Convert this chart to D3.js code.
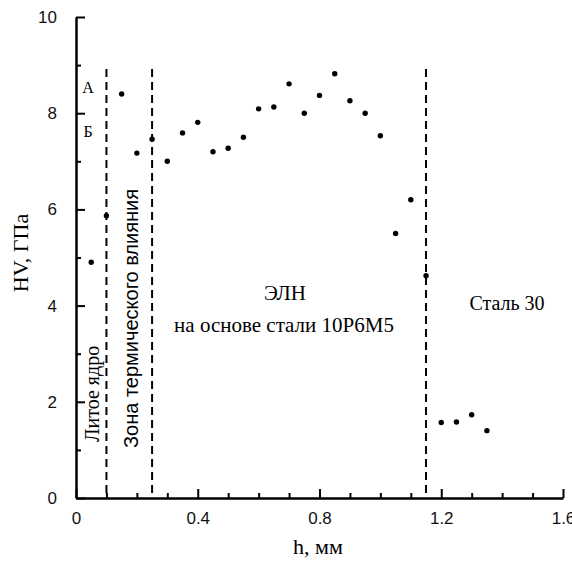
<!DOCTYPE html>
<html>
<head>
<meta charset="utf-8">
<script src="https://cdn.jsdelivr.net/npm/d3@7"></script>
<style>
  body { margin: 0; background: #fff; }
  svg { display: block; }
  .serif { font-family: "Liberation Serif", "DejaVu Serif", serif; }
  .sans { font-family: "Liberation Sans", Arial, sans-serif; }
</style>
</head>
<body>
<div class="chart"></div>
<script>
// h, мм
let depth = [0.05, 0.1, 0.15, 0.2, 0.25, 0.3, 0.35, 0.4, 0.45, 0.5, 0.55, 0.6, 0.65, 0.7,
  0.75, 0.8, 0.85, 0.9, 0.95, 1.0, 1.05, 1.1, 1.15, 1.2, 1.25, 1.3, 1.35];
// HV, ГПа
let hardness = [4.9, 5.87, 8.4, 7.17, 7.46, 7.0, 7.59, 7.81, 7.2, 7.27, 7.5, 8.09, 8.13, 8.61,
  8.0, 8.37, 8.82, 8.26, 8.0, 7.53, 5.5, 6.2, 4.62, 1.57, 1.58, 1.73, 1.4];

// zone boundaries
let borders = [0.1, 0.25, 1.15];
let borderTop = 8.92;

let xTicks = [0, 0.4, 0.8, 1.2, 1.6];
let xMinor = [0.1, 0.2, 0.3, 0.5, 0.6, 0.7, 0.9, 1.0, 1.1, 1.3, 1.4, 1.5];
let yTicks = [0, 2, 4, 6, 8, 10];
let yMinor = [1, 3, 5, 7, 9];

let w = 572;
let h = 563;

let xScale = d3.scaleLinear()
    .domain([0, 1.6])
    .range([76, 563]);

let yScale = d3.scaleLinear()
    .domain([0, 10])
    .range([498, 17]);

const svg = d3.select(".chart")
    .append("svg")
    .attr("width", w)
    .attr("height", h);

// minor ticks
svg.append("g")
    .attr("transform", "translate(0, 498)")
    .call(d3.axisBottom(xScale).tickValues(xMinor).tickSize(-5).tickSizeOuter(0).tickFormat(""))
    .call(g => g.select(".domain").remove());

svg.append("g")
    .attr("transform", "translate(76, 0)")
    .call(d3.axisLeft(yScale).tickValues(yMinor).tickSize(-5).tickSizeOuter(0).tickFormat(""))
    .call(g => g.select(".domain").remove());

// major ticks and labels
const xAxis = svg.append("g")
    .attr("transform", "translate(0, 498)")
    .attr("class", "sans")
    .call(d3.axisBottom(xScale).tickValues(xTicks).tickSize(-9).tickSizeOuter(0).tickPadding(14)
      .tickFormat(d => d === 0 ? "0" : d3.format(".1f")(d)));

const yAxis = svg.append("g")
    .attr("transform", "translate(76, 0)")
    .attr("class", "sans")
    .call(d3.axisLeft(yScale).tickValues(yTicks).tickSize(-9).tickSizeOuter(0).tickPadding(19));

svg.selectAll(".tick line")
    .attr("stroke", "#000")
    .attr("stroke-width", 2);
svg.selectAll(".domain")
    .attr("stroke", "#000")
    .attr("stroke-width", 2.5);
svg.selectAll(".tick text")
    .attr("font-family", "Liberation Sans, Arial, sans-serif")
    .attr("font-size", 17)
    .attr("fill", "#111");

// dashed borders
svg.selectAll(".border")
    .data(borders)
    .enter()
    .append("line")
    .attr("x1", d => xScale(d))
    .attr("x2", d => xScale(d))
    .attr("y1", yScale(borderTop))
    .attr("y2", yScale(0))
    .attr("stroke", "#000")
    .attr("stroke-width", 2)
    .attr("stroke-dasharray", "8,5");

// points
svg.selectAll(".dot")
    .data(depth)
    .enter()
    .append("circle")
    .attr("cx", d => xScale(d))
    .attr("cy", (d, i) => yScale(hardness[i]))
    .attr("r", 2.7)
    .attr("fill", "#000");

// axis titles
svg.append("text")
    .attr("class", "serif")
    .attr("x", 318)
    .attr("y", 554)
    .attr("text-anchor", "middle")
    .attr("font-size", 22)
    .text("h, мм");

svg.append("text")
    .attr("class", "serif")
    .attr("transform", "translate(28, 253) rotate(-90)")
    .attr("text-anchor", "middle")
    .attr("font-size", 22)
    .text("HV, ГПа");

// zone labels
svg.append("text")
    .attr("class", "serif")
    .attr("x", 88)
    .attr("y", 93)
    .attr("text-anchor", "middle")
    .attr("font-size", 16)
    .text("А");

svg.append("text")
    .attr("class", "serif")
    .attr("x", 88)
    .attr("y", 137)
    .attr("text-anchor", "middle")
    .attr("font-size", 16)
    .text("Б");

svg.append("text")
    .attr("class", "serif")
    .attr("transform", "translate(99, 442) rotate(-90)")
    .attr("font-size", 20)
    .text("Литое ядро");

svg.append("text")
    .attr("class", "sans")
    .attr("transform", "translate(138, 448) rotate(-90)")
    .attr("font-size", 20)
    .text("Зона термического влияния");

svg.append("text")
    .attr("class", "serif")
    .attr("x", 285)
    .attr("y", 300)
    .attr("text-anchor", "middle")
    .attr("font-size", 21)
    .text("ЭЛН");

svg.append("text")
    .attr("class", "serif")
    .attr("x", 284)
    .attr("y", 332)
    .attr("text-anchor", "middle")
    .attr("font-size", 21)
    .text("на основе стали 10Р6М5");

svg.append("text")
    .attr("class", "serif")
    .attr("x", 507)
    .attr("y", 310)
    .attr("text-anchor", "middle")
    .attr("font-size", 20)
    .text("Сталь 30");
</script>
</body>
</html>
